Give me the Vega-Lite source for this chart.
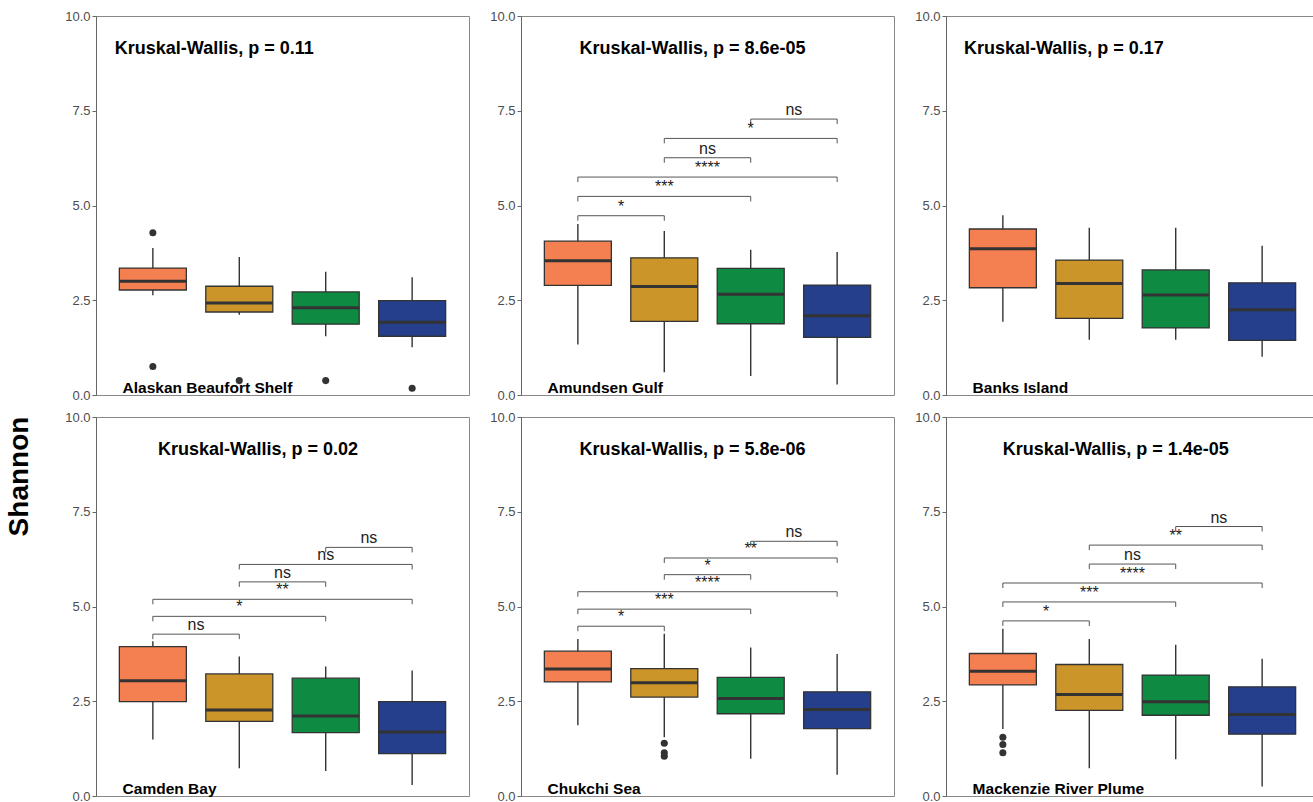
{
  "$schema": "https://vega.github.io/schema/vega-lite/v6.json",
  "padding": {"top": 9, "left": 6, "right": 0, "bottom": 0},
  "title": {"text": "Shannon", "orient": "left", "anchor": "middle", "fontSize": 28, "fontWeight": "bold", "color": "#000000", "font": "Liberation Sans", "offset": 30, "dx": -70},
  "data": {"values": [
    {"kind": "box", "region": "Alaskan Beaufort Shelf", "grp": 1, "lo": 2.63, "q1": 2.77, "med": 3.00, "q3": 3.35, "hi": 3.88},
    {"kind": "box", "region": "Alaskan Beaufort Shelf", "grp": 2, "lo": 2.12, "q1": 2.19, "med": 2.43, "q3": 2.87, "hi": 3.64},
    {"kind": "box", "region": "Alaskan Beaufort Shelf", "grp": 3, "lo": 1.55, "q1": 1.87, "med": 2.30, "q3": 2.72, "hi": 3.25},
    {"kind": "box", "region": "Alaskan Beaufort Shelf", "grp": 4, "lo": 1.26, "q1": 1.55, "med": 1.92, "q3": 2.49, "hi": 3.11},
    {"kind": "out", "region": "Alaskan Beaufort Shelf", "grp": 1, "v": 4.28},
    {"kind": "out", "region": "Alaskan Beaufort Shelf", "grp": 1, "v": 0.75},
    {"kind": "out", "region": "Alaskan Beaufort Shelf", "grp": 2, "v": 0.38},
    {"kind": "out", "region": "Alaskan Beaufort Shelf", "grp": 3, "v": 0.38},
    {"kind": "out", "region": "Alaskan Beaufort Shelf", "grp": 4, "v": 0.18},
    {"kind": "kw", "region": "Alaskan Beaufort Shelf", "label": "Kruskal-Wallis, p = 0.11", "kx": 0.56},

    {"kind": "box", "region": "Amundsen Gulf", "grp": 1, "lo": 1.33, "q1": 2.89, "med": 3.54, "q3": 4.06, "hi": 4.51},
    {"kind": "box", "region": "Amundsen Gulf", "grp": 2, "lo": 0.60, "q1": 1.94, "med": 2.86, "q3": 3.62, "hi": 4.33},
    {"kind": "box", "region": "Amundsen Gulf", "grp": 3, "lo": 0.50, "q1": 1.88, "med": 2.66, "q3": 3.34, "hi": 3.83},
    {"kind": "box", "region": "Amundsen Gulf", "grp": 4, "lo": 0.28, "q1": 1.52, "med": 2.09, "q3": 2.90, "hi": 3.77},
    {"kind": "brk", "region": "Amundsen Gulf", "g1": 1, "g2": 2, "h": 4.73, "label": "*"},
    {"kind": "brk", "region": "Amundsen Gulf", "g1": 1, "g2": 3, "h": 5.24, "label": "***"},
    {"kind": "brk", "region": "Amundsen Gulf", "g1": 1, "g2": 4, "h": 5.75, "label": "****"},
    {"kind": "brk", "region": "Amundsen Gulf", "g1": 2, "g2": 3, "h": 6.26, "label": "ns"},
    {"kind": "brk", "region": "Amundsen Gulf", "g1": 2, "g2": 4, "h": 6.77, "label": "*"},
    {"kind": "brk", "region": "Amundsen Gulf", "g1": 3, "g2": 4, "h": 7.28, "label": "ns"},
    {"kind": "kw", "region": "Amundsen Gulf", "label": "Kruskal-Wallis, p = 8.6e-05", "kx": 1.02},

    {"kind": "box", "region": "Banks Island", "grp": 1, "lo": 1.93, "q1": 2.83, "med": 3.86, "q3": 4.38, "hi": 4.74},
    {"kind": "box", "region": "Banks Island", "grp": 2, "lo": 1.46, "q1": 2.02, "med": 2.94, "q3": 3.56, "hi": 4.41},
    {"kind": "box", "region": "Banks Island", "grp": 3, "lo": 1.46, "q1": 1.77, "med": 2.64, "q3": 3.30, "hi": 4.41},
    {"kind": "box", "region": "Banks Island", "grp": 4, "lo": 1.01, "q1": 1.44, "med": 2.25, "q3": 2.96, "hi": 3.94},
    {"kind": "kw", "region": "Banks Island", "label": "Kruskal-Wallis, p = 0.17", "kx": 0.55},

    {"kind": "box", "region": "Camden Bay", "grp": 1, "lo": 1.49, "q1": 2.49, "med": 3.04, "q3": 3.94, "hi": 4.08},
    {"kind": "box", "region": "Camden Bay", "grp": 2, "lo": 0.73, "q1": 1.97, "med": 2.27, "q3": 3.22, "hi": 3.68},
    {"kind": "box", "region": "Camden Bay", "grp": 3, "lo": 0.66, "q1": 1.67, "med": 2.11, "q3": 3.11, "hi": 3.42},
    {"kind": "box", "region": "Camden Bay", "grp": 4, "lo": 0.29, "q1": 1.12, "med": 1.69, "q3": 2.49, "hi": 3.31},
    {"kind": "brk", "region": "Camden Bay", "g1": 1, "g2": 2, "h": 4.27, "label": "ns"},
    {"kind": "brk", "region": "Camden Bay", "g1": 1, "g2": 3, "h": 4.74, "label": "*"},
    {"kind": "brk", "region": "Camden Bay", "g1": 1, "g2": 4, "h": 5.19, "label": "**"},
    {"kind": "brk", "region": "Camden Bay", "g1": 2, "g2": 3, "h": 5.65, "label": "ns"},
    {"kind": "brk", "region": "Camden Bay", "g1": 2, "g2": 4, "h": 6.11, "label": "ns"},
    {"kind": "brk", "region": "Camden Bay", "g1": 3, "g2": 4, "h": 6.56, "label": "ns"},
    {"kind": "kw", "region": "Camden Bay", "label": "Kruskal-Wallis, p = 0.02", "kx": 1.06},

    {"kind": "box", "region": "Chukchi Sea", "grp": 1, "lo": 1.87, "q1": 3.01, "med": 3.35, "q3": 3.82, "hi": 4.14},
    {"kind": "box", "region": "Chukchi Sea", "grp": 2, "lo": 1.55, "q1": 2.61, "med": 2.99, "q3": 3.36, "hi": 4.28},
    {"kind": "box", "region": "Chukchi Sea", "grp": 3, "lo": 0.98, "q1": 2.17, "med": 2.57, "q3": 3.13, "hi": 3.92},
    {"kind": "box", "region": "Chukchi Sea", "grp": 4, "lo": 0.56, "q1": 1.78, "med": 2.28, "q3": 2.75, "hi": 3.75},
    {"kind": "out", "region": "Chukchi Sea", "grp": 2, "v": 1.39},
    {"kind": "out", "region": "Chukchi Sea", "grp": 2, "v": 1.14},
    {"kind": "out", "region": "Chukchi Sea", "grp": 2, "v": 1.05},
    {"kind": "brk", "region": "Chukchi Sea", "g1": 1, "g2": 2, "h": 4.48, "label": "*"},
    {"kind": "brk", "region": "Chukchi Sea", "g1": 1, "g2": 3, "h": 4.93, "label": "***"},
    {"kind": "brk", "region": "Chukchi Sea", "g1": 1, "g2": 4, "h": 5.39, "label": "****"},
    {"kind": "brk", "region": "Chukchi Sea", "g1": 2, "g2": 3, "h": 5.84, "label": "*"},
    {"kind": "brk", "region": "Chukchi Sea", "g1": 2, "g2": 4, "h": 6.28, "label": "**"},
    {"kind": "brk", "region": "Chukchi Sea", "g1": 3, "g2": 4, "h": 6.72, "label": "ns"},
    {"kind": "kw", "region": "Chukchi Sea", "label": "Kruskal-Wallis, p = 5.8e-06", "kx": 1.02},

    {"kind": "box", "region": "Mackenzie River Plume", "grp": 1, "lo": 1.77, "q1": 2.93, "med": 3.29, "q3": 3.76, "hi": 4.41},
    {"kind": "box", "region": "Mackenzie River Plume", "grp": 2, "lo": 0.73, "q1": 2.26, "med": 2.68, "q3": 3.47, "hi": 4.14},
    {"kind": "box", "region": "Mackenzie River Plume", "grp": 3, "lo": 0.97, "q1": 2.13, "med": 2.49, "q3": 3.19, "hi": 3.99},
    {"kind": "box", "region": "Mackenzie River Plume", "grp": 4, "lo": 0.25, "q1": 1.63, "med": 2.15, "q3": 2.88, "hi": 3.62},
    {"kind": "out", "region": "Mackenzie River Plume", "grp": 1, "v": 1.55},
    {"kind": "out", "region": "Mackenzie River Plume", "grp": 1, "v": 1.36},
    {"kind": "out", "region": "Mackenzie River Plume", "grp": 1, "v": 1.14},
    {"kind": "brk", "region": "Mackenzie River Plume", "g1": 1, "g2": 2, "h": 4.62, "label": "*"},
    {"kind": "brk", "region": "Mackenzie River Plume", "g1": 1, "g2": 3, "h": 5.12, "label": "***"},
    {"kind": "brk", "region": "Mackenzie River Plume", "g1": 1, "g2": 4, "h": 5.62, "label": "****"},
    {"kind": "brk", "region": "Mackenzie River Plume", "g1": 2, "g2": 3, "h": 6.12, "label": "ns"},
    {"kind": "brk", "region": "Mackenzie River Plume", "g1": 2, "g2": 4, "h": 6.62, "label": "**"},
    {"kind": "brk", "region": "Mackenzie River Plume", "g1": 3, "g2": 4, "h": 7.11, "label": "ns"},
    {"kind": "kw", "region": "Mackenzie River Plume", "label": "Kruskal-Wallis, p = 1.4e-05", "kx": 1.0}
  ]},
  "facet": {"field": "region", "type": "nominal", "title": null, "header": {"labels": false, "title": null, "labelPadding": 0, "titlePadding": 0, "labelFontSize": 0, "labelExpr": "''"}},
  "columns": 3,
  "spacing": {"row": 7, "column": 19},
  "resolve": {"axis": {"y": "independent"}},
  "spec": {
    "width": 373,
    "height": 379,
    "encoding": {
      "x": {"type": "quantitative", "scale": {"domain": [0.4, 4.6], "nice": false, "zero": false}, "axis": null},
      "y": {"type": "quantitative", "scale": {"domain": [0, 10], "nice": false, "zero": false},
            "axis": {"title": null, "values": [0, 2.5, 5, 7.5, 10], "format": ".1f", "grid": false, "tickSize": 4, "labelPadding": 2,
                     "labelFontSize": 13, "labelColor": "#4d4d4d", "domainColor": "#666666", "tickColor": "#666666", "labelFont": "Liberation Sans"}}
    },
    "layer": [
      {
        "transform": [{"filter": "datum.kind === 'box'"}],
        "mark": {"type": "rule", "color": "#333333", "strokeWidth": 1.4},
        "encoding": {"x": {"field": "grp"}, "y": {"field": "lo"}, "y2": {"field": "hi"}}
      },
      {
        "transform": [{"filter": "datum.kind === 'box'"}],
        "mark": {"type": "bar", "width": 67, "stroke": "#333333", "strokeWidth": 1.3},
        "encoding": {
          "x": {"field": "grp"}, "y": {"field": "q1"}, "y2": {"field": "q3"},
          "color": {"field": "grp", "type": "nominal", "scale": {"domain": [1, 2, 3, 4], "range": ["#F47F50", "#CC952A", "#0F8A43", "#253F8C"]}, "legend": null}
        }
      },
      {
        "transform": [{"filter": "datum.kind === 'box'"}],
        "mark": {"type": "tick", "orient": "horizontal", "size": 67, "thickness": 3, "color": "#333333", "opacity": 1},
        "encoding": {"x": {"field": "grp"}, "y": {"field": "med"}}
      },
      {
        "transform": [{"filter": "datum.kind === 'out'"}],
        "mark": {"type": "circle", "size": 50, "color": "#333333", "opacity": 1},
        "encoding": {"x": {"field": "grp"}, "y": {"field": "v"}}
      },
      {
        "transform": [{"filter": "datum.kind === 'brk'"}],
        "mark": {"type": "rule", "color": "#555555", "strokeWidth": 1},
        "encoding": {"x": {"field": "g1"}, "x2": {"field": "g2"}, "y": {"field": "h"}}
      },
      {
        "transform": [{"filter": "datum.kind === 'brk'"}],
        "mark": {"type": "rule", "color": "#555555", "strokeWidth": 1, "y2Offset": 5},
        "encoding": {"x": {"field": "g1"}, "y": {"field": "h"}, "y2": {"field": "h"}}
      },
      {
        "transform": [{"filter": "datum.kind === 'brk'"}],
        "mark": {"type": "rule", "color": "#555555", "strokeWidth": 1, "y2Offset": 5},
        "encoding": {"x": {"field": "g2"}, "y": {"field": "h"}, "y2": {"field": "h"}}
      },
      {
        "transform": [{"filter": "datum.kind === 'brk'"}, {"calculate": "(datum.g1 + datum.g2) / 2", "as": "xm"}],
        "mark": {"type": "text", "fontSize": 16, "color": "#222222", "baseline": "alphabetic", "align": "center", "dy": -4, "font": "Liberation Sans"},
        "encoding": {"x": {"field": "xm"}, "y": {"field": "h"}, "text": {"field": "label"}}
      },
      {
        "transform": [{"filter": "datum.kind === 'kw'"}],
        "mark": {"type": "text", "fontSize": 18, "fontWeight": "bold", "color": "#000000", "baseline": "alphabetic", "align": "left", "font": "Liberation Sans"},
        "encoding": {"x": {"field": "kx"}, "y": {"datum": 9.0}, "text": {"field": "label"}}
      },
      {
        "transform": [{"filter": "datum.kind === 'kw'"}],
        "mark": {"type": "text", "fontSize": 15.5, "fontWeight": "bold", "color": "#000000", "baseline": "alphabetic", "align": "left", "font": "Liberation Sans"},
        "encoding": {"x": {"datum": 0.65}, "y": {"datum": 0.04}, "text": {"field": "region"}}
      }
    ]
  },
  "config": {
    "font": "Liberation Sans",
    "view": {"stroke": "#888888", "strokeWidth": 1},
    "header": {"labels": false, "title": null, "labelPadding": 0, "titlePadding": 0},
    "background": "#ffffff"
  }
}
